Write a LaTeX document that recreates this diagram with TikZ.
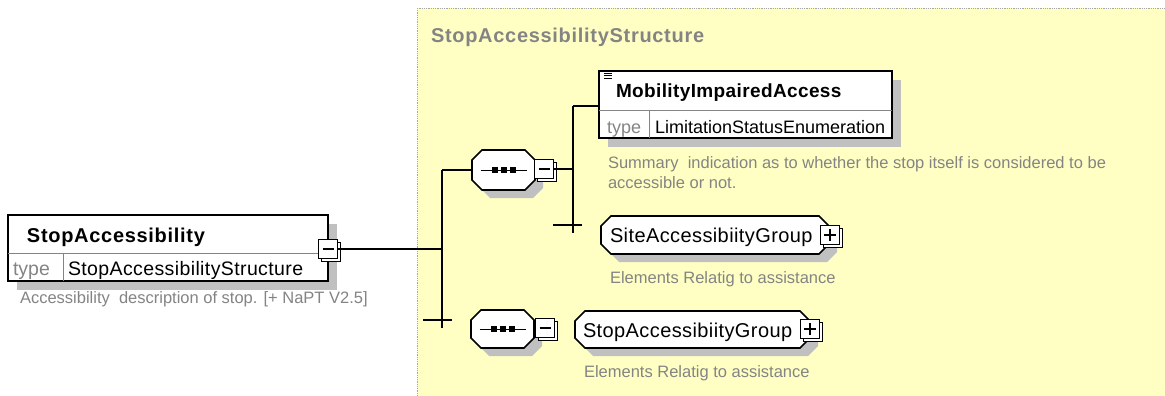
\documentclass[tikz,border=0pt]{standalone}
\usepackage{fontspec}
\setmainfont{Liberation Sans}
\usetikzlibrary{shadows,calc}
\definecolor{panelyellow}{HTML}{FFFFC4}
\definecolor{shgray}{HTML}{C0C0C0}
\definecolor{txtgray}{HTML}{848484}
\definecolor{bordergray}{HTML}{A8A8A8}
% octagon outline round a node: #1 node, #2 offset
\newcommand{\octaround}[2]{($(#1.north west)+(10+#2,#2)$) -- ($(#1.north east)+(-10+#2,#2)$) -- ($(#1.north east)+(#2,10+#2)$) -- ($(#1.south east)+(#2,-10+#2)$) -- ($(#1.south east)+(-10+#2,#2)$) -- ($(#1.south west)+(10+#2,#2)$) -- ($(#1.south west)+(#2,-10+#2)$) -- ($(#1.north west)+(#2,10+#2)$) -- cycle}
\begin{document}
\begin{tikzpicture}[x=1pt,y=-1pt,
  every node/.style={inner sep=0pt, outer sep=0pt},
  elembox/.style={draw, line width=1.6pt, fill=white, anchor=north west,
    drop shadow={shadow xshift=9pt, shadow yshift=-9pt, fill=shgray, opacity=1}},
  octframe/.style={draw=black, line width=1.6pt, fill=white, line join=miter},
  octshadow/.style={fill=shgray},
  sqbox/.style={draw=black, line width=1.9pt, fill=white, minimum size=19pt,
    copy shadow={shadow xshift=3pt, shadow yshift=-3pt, draw=black, fill=white, line width=1.6pt}},
  minusbox/.style={sqbox, path picture={\draw[line width=1.1pt]
      ($(path picture bounding box.west)+(4,0)$) -- ($(path picture bounding box.east)+(-4,0)$);}},
  plusbox/.style={sqbox, path picture={\draw[line width=1.2pt]
      ($(path picture bounding box.west)+(3.5,0)$) -- ($(path picture bounding box.east)+(-3.5,0)$)
      ($(path picture bounding box.north)+(0,3.5)$) -- ($(path picture bounding box.south)+(0,-3.5)$);}},
  conn/.style={line width=1.4pt, black},
  divider/.style={line width=1pt, txtgray},
  lbl/.style={anchor=base west},
  nametxt/.style={lbl, font=\fontsize{20}{24}\selectfont\bfseries},
  typetxt/.style={lbl, font=\fontsize{18}{22}\selectfont},
  typelbl/.style={lbl, text=txtgray, font=\fontsize{18}{22}\selectfont},
  grouptxt/.style={lbl, font=\fontsize{20}{24}\selectfont\addfontfeature{LetterSpace=2}},
  desctxt/.style={lbl, text=txtgray, font=\fontsize{16.5}{20}\selectfont},
]
\useasboundingbox (0,0) rectangle (1165,396);
\fill[white] (0,0) rectangle (1165,396);

% panel
\draw[bordergray, densely dotted, line width=0.8pt, fill=panelyellow] (417,8) rectangle (1175,405);
\node[lbl, text=txtgray, font=\fontsize{20}{24}\selectfont\bfseries\addfontfeature{LetterSpace=3.5}] (ptitle) at (431,43) {StopAccessibilityStructure};

% main element
\node[elembox, minimum width=320pt, minimum height=66pt] (sa) at (8,215) {};
\draw[divider] (8,253) -- (328,253);
\draw[divider] (63,253) -- (63,281);
\node[nametxt, font=\fontsize{20}{24}\selectfont\bfseries\addfontfeature{LetterSpace=3.5}] (saname) at (27,242) {StopAccessibility};
\node[typelbl, font=\fontsize{19.5}{22}\selectfont] (satype) at (13,275) {type};
\node[typetxt, font=\fontsize{19.5}{22}\selectfont\addfontfeature{LetterSpace=2}] (satypev) at (68,275) {StopAccessibilityStructure};
\node[desctxt] (sadesc) at (20,303) {Accessibility\ \ description of stop. [+ NaPT V2.5]};
\node[minusbox] (samin) at (328,249) {};

% octagon place holders
\node[minimum width=63pt, minimum height=40pt] (c1) at (503.5,170) {};
\node[minimum width=63pt, minimum height=38pt] (c2) at (502.5,329) {};
\node[minimum width=228pt, minimum height=38pt] (sg) at (715,235) {};
\node[minimum width=235pt, minimum height=37pt] (stg) at (692.5,329.5) {};
\foreach \o in {c1,c2,sg,stg} {
  \fill[octshadow] \octaround{\o}{8};
  \draw[octframe] \octaround{\o}{0};
}

% compositor 1
\draw[line width=1pt] ($(c1.center)+(-23,0)$) -- ($(c1.center)+(23,0)$);
\foreach \dx in {-9,0,9} \fill ($(c1.center)+(\dx-3,-3)$) rectangle ($(c1.center)+(\dx+3,3)$);
\node[minusbox] (c1min) at (544,169) {};

% compositor 2
\draw[line width=1pt] ($(c2.center)+(-23,0)$) -- ($(c2.center)+(23,0)$);
\foreach \dx in {-9,0,9} \fill ($(c2.center)+(\dx-3,-3)$) rectangle ($(c2.center)+(\dx+3,3)$);
\node[minusbox] (c2min) at (545,328) {};

% MobilityImpairedAccess
\node[elembox, minimum width=293pt, minimum height=67pt] (mia) at (599,71) {};
\draw[divider] (599,110) -- (892,110);
\draw[divider] (649,110) -- (649,138);
\draw[line width=1pt] (604,73.5) -- (612,73.5) (604,76) -- (612,76) (604,78.5) -- (612,78.5);
\node[nametxt, font=\fontsize{19}{23}\selectfont\bfseries\addfontfeature{LetterSpace=2}] (mianame) at (616,97) {MobilityImpairedAccess};
\node[typelbl] (miatype) at (607,133) {type};
\node[typetxt] (miatypev) at (655,133) {LimitationStatusEnumeration};
\node[desctxt] (miadesc1) at (608,168) {Summary\ \ indication as to whether the stop itself is considered to be};
\node[desctxt] (miadesc2) at (608,188) {accessible or not.};

% SiteAccessibiityGroup
\node[grouptxt] (sgname) at (610,242) {SiteAccessibiityGroup};
\node[plusbox] (sgplus) at (830,235) {};
\node[desctxt] (sgdesc) at (610,283) {Elements Relatig to assistance};

% StopAccessibiityGroup
\node[grouptxt] (stgname) at (583,337) {StopAccessibiityGroup};
\node[plusbox] (stgplus) at (810,329) {};
\node[desctxt] (stgdesc) at (584,377) {Elements Relatig to assistance};

% connector coordinates
\coordinate (v1top) at (442,170);
\coordinate (v1bot) at (442,328);
\coordinate (t1a) at (423,320);
\coordinate (t1b) at (452,320);
\coordinate (v2top) at (573,106);
\coordinate (v2bot) at (573,233);
\coordinate (t2a) at (553,225);
\coordinate (t2b) at (582,225);

% connectors
\draw[conn] (samin.east) -- (samin.east -| v1top);
\draw[conn] (v1top) -- (v1bot);
\draw[conn] (t1a) -- (t1b);
\draw[conn] (v1top) -- (c1.west);
\draw[conn] (c1min.east) -- (c1min.east -| v2top);
\draw[conn] (v2top) -- (v2bot);
\draw[conn] (t2a) -- (t2b);
\draw[conn] (v2top) -- (v2top -| mia.west);
\end{tikzpicture}
\end{document}
